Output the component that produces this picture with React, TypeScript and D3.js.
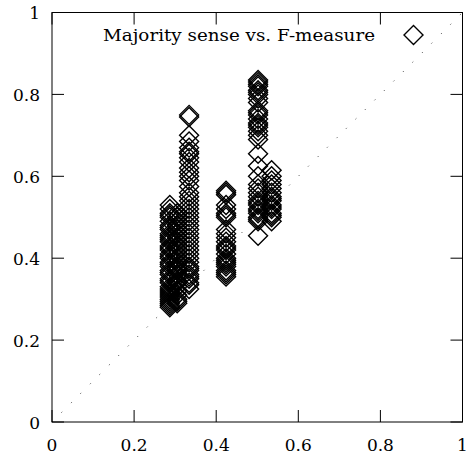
import React from "react";
import * as d3 from "d3";

const W = 472;
const H = 457;
const M = { left: 52, right: 9.5, top: 12.5, bottom: 35 };

const xTicks = [0, 0.2, 0.4, 0.6, 0.8, 1];
const yTicks = [0, 0.2, 0.4, 0.6, 0.8, 1];
const tickLabels = ["0", "0.2", "0.4", "0.6", "0.8", "1"];
const legendLabel = "Majority sense vs. F-measure";

// Majority-sense (x) columns and the F-measure values (y) observed in each
const colX = [0.287, 0.305, 0.334, 0.424, 0.502, 0.535];
const col1Y = [0.28, 0.285, 0.29, 0.295, 0.30, 0.305, 0.31, 0.315, 0.32, 0.325, 0.33, 0.34, 0.345, 0.35, 0.36, 0.365, 0.37, 0.38, 0.385, 0.39, 0.40, 0.405, 0.41, 0.42, 0.425, 0.43, 0.44, 0.445, 0.45, 0.455, 0.46, 0.47, 0.475, 0.48, 0.49, 0.50, 0.505, 0.51, 0.52, 0.53];
const col2Y = [0.29, 0.295, 0.30, 0.31, 0.32, 0.33, 0.34, 0.345, 0.36, 0.37, 0.375, 0.38, 0.39, 0.40, 0.41, 0.42, 0.43, 0.44, 0.45, 0.46, 0.47, 0.48, 0.49, 0.50, 0.51];
const col3Y = [0.325, 0.335, 0.34, 0.35, 0.355, 0.36, 0.37, 0.375, 0.38, 0.39, 0.40, 0.41, 0.42, 0.43, 0.44, 0.45, 0.46, 0.47, 0.48, 0.49, 0.50, 0.51, 0.52, 0.53, 0.54, 0.55, 0.56, 0.575, 0.59, 0.60, 0.61, 0.62, 0.635, 0.645, 0.655, 0.66, 0.67, 0.685, 0.70, 0.745, 0.75];
const col4Y = [0.355, 0.36, 0.365, 0.37, 0.38, 0.385, 0.39, 0.395, 0.40, 0.41, 0.42, 0.425, 0.43, 0.44, 0.45, 0.46, 0.47, 0.50, 0.505, 0.51, 0.52, 0.53, 0.555, 0.56, 0.565];
const col5Y = [0.455, 0.49, 0.495, 0.50, 0.51, 0.515, 0.52, 0.53, 0.535, 0.54, 0.55, 0.56, 0.57, 0.58, 0.60, 0.625, 0.655, 0.69, 0.70, 0.71, 0.72, 0.725, 0.73, 0.74, 0.75, 0.755, 0.76, 0.78, 0.79, 0.80, 0.805, 0.81, 0.82, 0.825, 0.83, 0.835];
const col6Y = [0.49, 0.50, 0.505, 0.51, 0.52, 0.525, 0.53, 0.54, 0.545, 0.55, 0.56, 0.57, 0.58, 0.59, 0.60, 0.615];
const colsY = [col1Y, col2Y, col3Y, col4Y, col5Y, col6Y];

const FONT = "'DejaVu Serif', serif";

export default function App() {
  const x = d3.scaleLinear().domain([0, 1]).range([M.left, W - M.right]);
  const y = d3.scaleLinear().domain([0, 1]).range([H - M.bottom, M.top]);
  const points: { x: number; y: number }[] = [];
  colsY.forEach((ys, i) => ys.forEach((v) => points.push({ x: colX[i], y: v })));
  const r = 9.5;
  const diamond = (cx: number, cy: number) =>
    `M${cx},${cy - r}L${cx + r},${cy}L${cx},${cy + r}L${cx - r},${cy}Z`;
  const tickLen = 12;
  const x0 = x(0), x1 = x(1), y0 = y(0), y1 = y(1);
  return (
    <svg width={W} height={H} style={{ position: "absolute", left: 0, top: 0, background: "#fff" }}>
      <rect x={0} y={0} width={W} height={H} fill="#fff" />
      {/* diagonal */}
      <line x1={x(0)} y1={y(0)} x2={x(1)} y2={y(1)} stroke="#333" strokeWidth={1} strokeDasharray="1 12.4" />
      {/* ticks */}
      {xTicks.map((t, i) => (
        <g key={"xt" + i}>
          <line x1={x(t)} x2={x(t)} y1={y0} y2={y0 - tickLen} stroke="#000" />
          <line x1={x(t)} x2={x(t)} y1={y1} y2={y1 + tickLen} stroke="#000" />
          <text x={x(t)} y={H - 6} textAnchor="middle" fontFamily={FONT} fontSize={17}>{tickLabels[i]}</text>
        </g>
      ))}
      {yTicks.map((t, i) => (
        <g key={"yt" + i}>
          <line x1={x0} x2={x0 + tickLen} y1={y(t)} y2={y(t)} stroke="#000" />
          <line x1={x1} x2={x1 - tickLen} y1={y(t)} y2={y(t)} stroke="#000" />
          <text x={40} y={y(t) + 6.5} textAnchor="end" fontFamily={FONT} fontSize={17}>{tickLabels[i]}</text>
        </g>
      ))}
      {/* points */}
      {points.map((p, i) => (
        <path key={i} d={diamond(x(p.x), y(p.y))} fill="none" stroke="#000" strokeWidth={1.4} />
      ))}
      {/* border */}
      <rect x={x0} y={y1} width={x1 - x0} height={y0 - y1} fill="none" stroke="#000" strokeWidth={1} />
      {/* legend */}
      <text x={375} y={41} textAnchor="end" fontFamily={FONT} fontSize={17} textLength={272} lengthAdjust="spacingAndGlyphs">{legendLabel}</text>
      <path d={diamond(413.5, 35)} fill="none" stroke="#000" strokeWidth={1.4} />
    </svg>
  );
}
